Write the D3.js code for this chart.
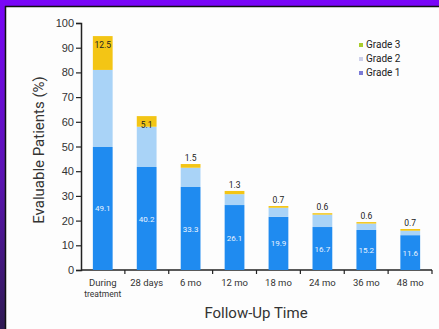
<!DOCTYPE html>
<html>
<head>
<meta charset="utf-8">
<script src="https://cdn.jsdelivr.net/npm/d3@7"></script>
<style>
  body { margin: 0; overflow: hidden; }
  svg { display: block; font-family: Roboto, 'Liberation Sans', sans-serif; }
</style>
</head>
<body>
<svg id="chart" width="439" height="329"></svg>
<script>
// Chart data
var categories = ['During treatment', '28 days', '6 mo', '12 mo', '18 mo', '24 mo', '36 mo', '48 mo'];
var grade1 = [49.8, 41.7, 33.6, 26.3, 21.5, 17.4, 16.2, 14.1];
var grade2 = [31.2, 16.3, 7.8, 4.4, 3.7, 5.0, 2.6, 1.8];
var grade3 = [13.7, 4.3, 1.5, 1.3, 0.7, 0.6, 0.6, 0.7];
var grade1Labels = ['49.1', '40.2', '33.3', '26.1', '19.9', '16.7', '15.2', '11.6'];
var grade3Labels = ['12.5', '5.1', '1.5', '1.3', '0.7', '0.6', '0.6', '0.7'];
var yTicks = [0, 10, 20, 30, 40, 50, 60, 70, 80, 90, 100];
var legendItems = ['Grade 3', 'Grade 2', 'Grade 1'];

var colors = { g1: '#1f8bf0', g2: '#a9d3f7', g3: '#f3c515' };
var legendColors = { 'Grade 3': '#a9cc2c', 'Grade 2': '#cdd0ea', 'Grade 1': '#7b7bd6' };

var svg = d3.select('#chart');

// Purple frame + white panel
var defs = svg.append('defs');
var grad = defs.append('linearGradient').attr('id', 'frame')
    .attr('x1', 0).attr('y1', 0).attr('x2', 0).attr('y2', 1);
grad.append('stop').attr('offset', '0%').attr('stop-color', '#7a06f8');
grad.append('stop').attr('offset', '55%').attr('stop-color', '#5a14b0');
grad.append('stop').attr('offset', '100%').attr('stop-color', '#2e1a52');

svg.append('rect').attr('width', 439).attr('height', 329).attr('fill', 'url(#frame)');
svg.append('rect').attr('x', 5).attr('y', 6).attr('width', 434).attr('height', 323).attr('fill', '#fdfdfd');
svg.append('line').attr('x1', 5).attr('x2', 439).attr('y1', 6.5).attr('y2', 6.5).attr('stroke', '#111').attr('stroke-width', 1.5);
svg.append('line').attr('x1', 5.5).attr('x2', 5.5).attr('y1', 6).attr('y2', 329).attr('stroke', '#111').attr('stroke-width', 1.5);

// Scales
var x = d3.scaleBand().domain(categories).range([81, 432]).paddingInner(0.55).paddingOuter(0.27);
var y = d3.scaleLinear().domain([0, 100]).range([270, 23]);

// Axes
var yAxis = svg.append('g').attr('transform', 'translate(81,0)')
    .call(d3.axisLeft(y).tickValues(yTicks).tickSize(5).tickPadding(2));
yAxis.select('.domain').attr('stroke', '#222').attr('stroke-width', 1.5);
yAxis.selectAll('.tick line').attr('stroke', '#222').attr('stroke-width', 1.2);
yAxis.selectAll('.tick text').style('font-size', '11px').attr('fill', '#333');

var step = x.step();
var xAxis = svg.append('g').attr('transform', 'translate(0,270)');
xAxis.append('line').attr('x1', 81).attr('x2', 432).attr('stroke', '#222').attr('stroke-width', 1.5);
xAxis.selectAll('line.tk').data(categories.slice(1).concat(['end'])).enter().append('line')
    .attr('class', 'tk')
    .attr('x1', function (d, i) { return 81 + (i + 1) * (351 / 8); })
    .attr('x2', function (d, i) { return 81 + (i + 1) * (351 / 8); })
    .attr('y1', 0).attr('y2', 4).attr('stroke', '#222').attr('stroke-width', 1.2);

var xLabels = svg.append('g');
categories.forEach(function (c) {
    var cx = x(c) + x.bandwidth() / 2;
    var words = c === 'During treatment' ? ['During', 'treatment'] : [c];
    words.forEach(function (w, j) {
        xLabels.append('text')
            .attr('x', cx).attr('y', 286 + j * 11)
            .attr('text-anchor', 'middle')
            .style('font-size', j === 0 ? '9.5px' : '8.5px')
            .attr('fill', '#333')
            .text(w);
    });
});

// Stacked bars
var bars = svg.append('g');
categories.forEach(function (c, i) {
    var bx = x(c), bw = x.bandwidth();
    var t1 = grade1[i], t2 = t1 + grade2[i], t3 = t2 + grade3[i];
    bars.append('rect').attr('x', bx).attr('width', bw)
        .attr('y', y(t1)).attr('height', y(0) - y(t1)).attr('fill', colors.g1);
    bars.append('rect').attr('x', bx).attr('width', bw)
        .attr('y', y(t2)).attr('height', y(t1) - y(t2)).attr('fill', colors.g2);
    bars.append('rect').attr('x', bx).attr('width', bw)
        .attr('y', y(t3)).attr('height', y(t2) - y(t3)).attr('fill', colors.g3);

    // grade 1 label in the middle of the blue
    bars.append('text')
        .attr('x', bx + bw / 2).attr('y', y(t1 / 2) + 3)
        .attr('text-anchor', 'middle').style('font-size', '8px')
        .attr('fill', '#e8f3ff').text(grade1Labels[i]);

    // grade 3 label: inside if segment is big, above otherwise
    var inside = grade3[i] > 3;
    bars.append('text')
        .attr('x', bx + bw / 2)
        .attr('y', inside ? y(t3) + 12 : y(t3) - 3)
        .attr('text-anchor', 'middle').style('font-size', '8.5px')
        .attr('fill', '#222').text(grade3Labels[i]);
});

// Axis titles
svg.append('text')
    .attr('transform', 'translate(44,150) rotate(-90)')
    .attr('text-anchor', 'middle').style('font-size', '15px').attr('fill', '#333')
    .text('Evaluable Patients (%)');
svg.append('text')
    .attr('x', 256).attr('y', 318)
    .attr('text-anchor', 'middle').style('font-size', '15px').attr('fill', '#333')
    .text('Follow-Up Time');

// Legend
var legend = svg.append('g').attr('transform', 'translate(361,48)');
legendItems.forEach(function (d, i) {
    legend.append('rect').attr('x', -2).attr('y', i * 14 - 5).attr('width', 4).attr('height', 4)
        .attr('fill', legendColors[d]);
    legend.append('text').attr('x', 5).attr('y', i * 14)
        .style('font-size', '10px').attr('fill', '#222').text(d);
});
</script>
</body>
</html>
